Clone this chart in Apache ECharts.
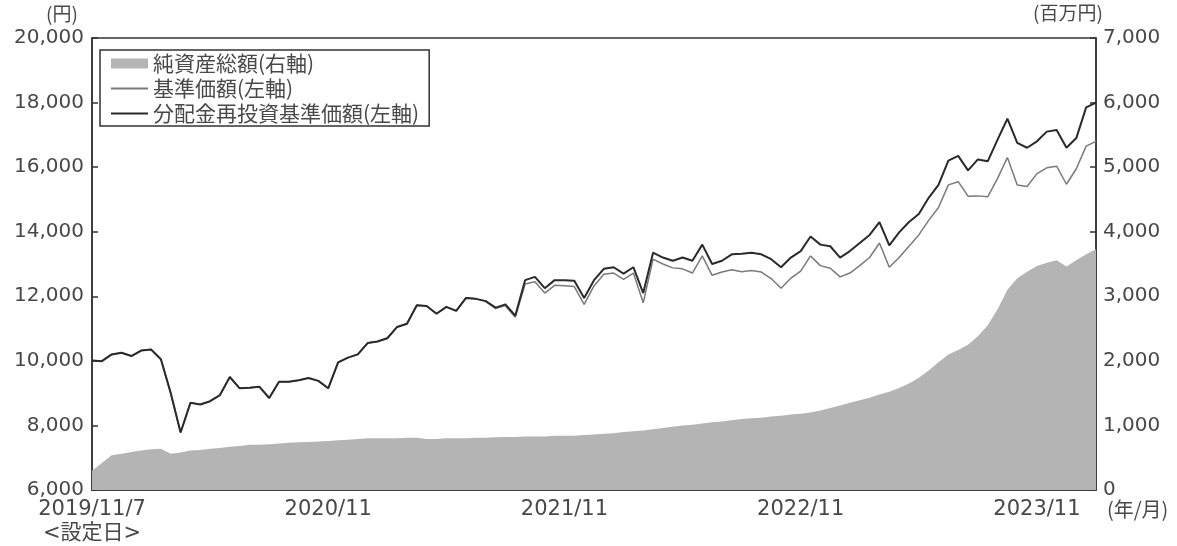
<!DOCTYPE html>
<html><head><meta charset="utf-8">
<script src="https://cdn.jsdelivr.net/npm/echarts@6/dist/echarts.min.js"></script>
<style>html,body{margin:0;padding:0;background:#fff}#c{width:1177px;height:546px}</style>
</head><body><div id="c"></div>
<script>
const categories = [
'2019/11/7','2019/11/22','2019/12/7','2019/12/22',
'2020/1/7','2020/1/22','2020/2/7','2020/2/22','2020/3/7','2020/3/22','2020/4/7','2020/4/22','2020/5/7','2020/5/22','2020/6/7','2020/6/22',
'2020/7/7','2020/7/22','2020/8/7','2020/8/22','2020/9/7','2020/9/22','2020/10/7','2020/10/22','2020/11/7','2020/11/22','2020/12/7','2020/12/22',
'2021/1/7','2021/1/22','2021/2/7','2021/2/22','2021/3/7','2021/3/22','2021/4/7','2021/4/22','2021/5/7','2021/5/22','2021/6/7','2021/6/22',
'2021/7/7','2021/7/22','2021/8/7','2021/8/22','2021/9/7','2021/9/22','2021/10/7','2021/10/22','2021/11/7','2021/11/22','2021/12/7','2021/12/22',
'2022/1/7','2022/1/22','2022/2/7','2022/2/22','2022/3/7','2022/3/22','2022/4/7','2022/4/22','2022/5/7','2022/5/22','2022/6/7','2022/6/22',
'2022/7/7','2022/7/22','2022/8/7','2022/8/22','2022/9/7','2022/9/22','2022/10/7','2022/10/22','2022/11/7','2022/11/22','2022/12/7','2022/12/22',
'2023/1/7','2023/1/22','2023/2/7','2023/2/22','2023/3/7','2023/3/22','2023/4/7','2023/4/22','2023/5/7','2023/5/22','2023/6/7','2023/6/22',
'2023/7/7','2023/7/22','2023/8/7','2023/8/22','2023/9/7','2023/9/22','2023/10/7','2023/10/22','2023/11/7','2023/11/22','2023/12/7','2023/12/22',
'2024/1/7','2024/1/22','2024/2/7'];

// 分配金再投資基準価額 (円, left axis)
const navReinvested = [
10010,9990,10200,10250,10150,10320,10350,10050,9000,7780,8700,8650,8750,8940,9500,9150,
9170,9200,8850,9350,9350,9400,9470,9380,9150,9950,10100,10200,
10550,10600,10700,11050,11150,11720,11700,11460,11670,11550,11950,11920,
11850,11650,11750,11400,12500,12600,12250,12500,12500,12480,11950,12500,
12850,12900,12700,12900,12100,13350,13200,13100,13200,13100,13600,13000,
13100,13300,13320,13350,13300,13150,12900,13200,13400,13850,13600,13550,
13200,13400,13650,13900,14300,13580,13980,14300,14550,15050,15450,16200,
16350,15900,16240,16180,16850,17500,16750,16600,16800,17100,17150,16600,
16900,17850,18000];

// 基準価額 (円, left axis)
const nav = [
10010,9990,10200,10250,10150,10320,10350,10050,9000,7780,8700,8650,8750,8940,9500,9150,
9170,9200,8850,9350,9350,9400,9470,9380,9150,9950,10100,10200,
10550,10600,10700,11050,11150,11720,11700,11460,11670,11550,11950,11920,
11850,11620,11710,11350,12380,12450,12100,12340,12330,12300,11750,12320,
12680,12720,12520,12720,11800,13150,13000,12880,12850,12720,13250,12650,
12750,12820,12760,12800,12750,12550,12250,12560,12780,13250,12950,12870,
12600,12720,12950,13200,13650,12900,13200,13550,13900,14350,14750,15450,
15550,15100,15110,15080,15650,16300,15450,15400,15800,15980,16030,15470,
15950,16650,16800];

// 純資産総額 (百万円, right axis)
const netAssets = [
300,420,540,560,590,610,630,640,560,580,610,620,640,650,670,680,
700,700,710,720,730,740,745,750,760,770,780,790,
800,800,800,800,810,810,790,790,800,800,800,810,
810,815,820,820,830,830,830,840,840,840,850,860,
870,880,900,910,920,940,960,980,1000,1010,1030,1050,
1060,1080,1100,1110,1120,1140,1150,1170,1180,1200,1230,1270,
1310,1350,1390,1430,1480,1520,1580,1650,1740,1850,1980,2100,
2170,2250,2380,2550,2800,3100,3280,3380,3470,3520,3560,3460,
3560,3650,3730];

const tickCategories = ['2019/11/7','2020/11/7','2021/11/7','2022/11/7','2023/11/7'];
const tickLabels = ['2019/11/7\n<設定日>','2020/11','2021/11','2022/11','2023/11'];
const leftTicks = [6000,20000,2000];
const rightTicks = [0,7000,1000];
const seriesNames = ['純資産総額(右軸)','基準価額(左軸)','分配金再投資基準価額(左軸)'];

const FONT = '"Noto Sans CJK JP", "Noto Sans", sans-serif';
const NUMFONT = '"DejaVu Sans", "Noto Sans CJK JP", sans-serif';
const TXT = '#484848';
const fmt = v => v.toLocaleString('en-US');
const hidden = {color:'rgba(0,0,0,0)',borderColor:'rgba(0,0,0,0)',borderWidth:0};

const chart = echarts.init(document.getElementById('c'), null, {renderer:'canvas'});
chart.setOption({
  animation:false,
  backgroundColor:'#fff',
  textStyle:{fontFamily:FONT},
  grid:{left:92,right:81,top:38,bottom:55,show:true,borderColor:'#333',borderWidth:1.5,backgroundColor:'transparent'},
  legend:{
    orient:'vertical',left:100,top:50,padding:[3,10,2,10],itemGap:4,
    itemWidth:37,itemHeight:10,borderColor:'#333',borderWidth:1.5,backgroundColor:'#fff',
    textStyle:{fontFamily:FONT,fontSize:21,color:TXT,lineHeight:19},
    data:[
      {name:seriesNames[0],icon:'rect',itemStyle:{color:'#b4b4b4'}},
      {name:seriesNames[1],itemStyle:hidden},
      {name:seriesNames[2],itemStyle:hidden}
    ]
  },
  xAxis:{
    type:'category',data:categories,boundaryGap:false,
    axisLine:{lineStyle:{color:'#333',width:1.5}},
    axisTick:{inside:true,length:6,lineStyle:{color:'#333',width:1.5},
      interval:(i,v)=>tickCategories.indexOf(v)>0},
    axisLabel:{color:TXT,fontSize:21,fontFamily:NUMFONT,margin:8,lineHeight:24,
      interval:(i,v)=>tickCategories.indexOf(v)>=0,
      formatter:(v)=>{const k=tickCategories.indexOf(v);return k>=0?tickLabels[k]:'';}},
    splitLine:{show:false}
  },
  yAxis:[
    {type:'value',min:leftTicks[0],max:leftTicks[1],interval:leftTicks[2],position:'left',
     axisLine:{show:true,lineStyle:{color:'#333',width:1.5}},
     axisTick:{show:true,inside:true,length:6,lineStyle:{color:'#333',width:1.5}},
     axisLabel:{color:TXT,fontSize:20,fontFamily:NUMFONT,margin:8,formatter:fmt},
     splitLine:{show:false}},
    {type:'value',min:rightTicks[0],max:rightTicks[1],interval:rightTicks[2],position:'right',
     axisLine:{show:true,lineStyle:{color:'#333',width:1.5}},
     axisTick:{show:true,inside:true,length:6,lineStyle:{color:'#333',width:1.5}},
     axisLabel:{color:TXT,fontSize:20,fontFamily:NUMFONT,margin:7,formatter:fmt},
     splitLine:{show:false}}
  ],
  series:[
    {name:seriesNames[0],type:'line',yAxisIndex:1,data:netAssets,symbol:'none',
     lineStyle:{width:0,color:'#b4b4b4'},itemStyle:{color:'#b4b4b4'},
     areaStyle:{color:'#b4b4b4',opacity:1},z:1},
    {name:seriesNames[1],type:'line',yAxisIndex:0,data:nav,symbol:'none',
     lineStyle:{width:1.5,color:'#7a7a7a'},itemStyle:{color:'#7a7a7a'},z:2},
    {name:seriesNames[2],type:'line',yAxisIndex:0,data:navReinvested,symbol:'none',
     lineStyle:{width:2,color:'#2a2a2a'},itemStyle:{color:'#2a2a2a'},z:3}
  ],
  graphic:[
    {type:'text',left:46,top:4,style:{text:'(円)',font:'19px '+FONT,fill:TXT}},
    {type:'text',left:1033,top:3,style:{text:'(百万円)',font:'19px '+FONT,fill:TXT}},
    {type:'text',left:1107,top:499,style:{text:'(年/月)',font:'20px '+FONT,fill:TXT}}
  ]
});
</script></body></html>
